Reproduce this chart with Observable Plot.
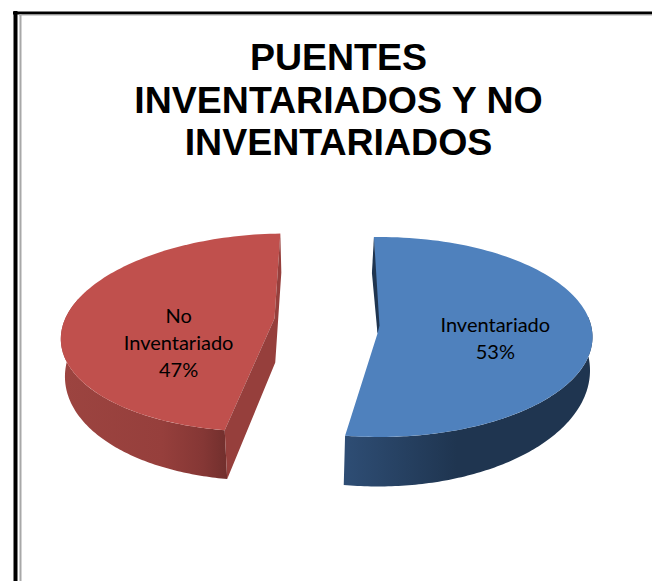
<!DOCTYPE html>
<html>
<head>
<meta charset="utf-8">
<script src="https://cdn.jsdelivr.net/npm/d3@7"></script>
<script src="https://cdn.jsdelivr.net/npm/@observablehq/plot@0.6"></script>
<style>
  html, body { margin: 0; padding: 0; background: #fff; }
  svg { display: block; }
</style>
</head>
<body>
<script>
// Bridge inventory shares
const categories = ["Inventariado", "No Inventariado"];
const shares = [53, 47];
const topColors = ["#4f81bd", "#c0504d"];
const titleLines = ["PUENTES", "INVENTARIADOS Y NO", "INVENTARIADOS"];
const labelLines = [["Inventariado"], ["No", "Inventariado"]];

const W = 652, H = 581;
const rotation = -1.5;

// Projection of each exploded slice: top rim ellipse, lower rim ellipse, shear and cut wall.
const projection = [
  {cx: 379, cy: 336.5, rx: 213, ry: 100, shear: 0,
   bx: 377.5, by: 370, brx: 212, bry: 116,
   sideFrom: 78, sideTo: null, apex: [-2, -3.5],
   wallTop: [-2, 36], wallApex: [-2, -3.5], wallInner: [0, -11.5], wallCorner: false,
   labelR: 0.545, labelY: 0,
   gradient: [["0%", "#2e4d74"], ["45%", "#1f3550"], ["100%", "#1f3550"]], gx: [345, 592],
   wallColor: "#1f3550"},
  {cx: 271.75, cy: 332, rx: 211, ry: 99, shear: 0.1375,
   bx: 276, by: 368, brx: 211, bry: 112,
   sideFrom: null, sideTo: 290, apex: [2.25, -14],
   wallTop: [1, 39], wallApex: [3, 30], wallInner: [2.25, -14], wallCorner: true,
   labelR: 0.445, labelY: 9,
   gradient: [["0%", "#9c4440"], ["60%", "#963f3c"], ["85%", "#853735"], ["100%", "#712f2d"]], gx: [63, 227],
   wallColor: "#963f3c"}
];

const pieAngles = d3.pie().sort(null)
  .startAngle(rotation * Math.PI / 180)
  .endAngle((rotation + 360) * Math.PI / 180)(shares);

const rim = (p, a) => [
  p.cx + p.rx * Math.sin(a) + p.shear * p.ry * Math.cos(a),
  p.cy - p.ry * Math.cos(a)
];
const lowerRim = (p, a) => [
  p.bx + p.brx * Math.sin(a) + p.shear * p.bry * Math.cos(a),
  p.by - p.bry * Math.cos(a)
];
const sweep = (from, to, fn, p) =>
  d3.range(0, 121).map(i => fn(p, from + (to - from) * i / 120));
const toRad = d => d * Math.PI / 180;
const at = (o, d) => [o[0] + d[0], o[1] + d[1]];

const slices = categories.map((name, i) => {
  const p = projection[i], a = pieAngles[i];
  const cwEnd = rim(p, a.endAngle), cwStart = rim(p, a.startAngle);
  const center = [p.cx, p.cy];
  const apex = at(center, p.apex);
  const surface = [apex, ...sweep(a.startAngle, a.endAngle, rim, p)];
  const sideA = p.sideFrom != null ? toRad(p.sideFrom) : a.startAngle;
  const sideB = p.sideTo != null ? toRad(p.sideTo) : a.endAngle;
  const side = [...sweep(sideA, sideB, rim, p), ...sweep(sideB, sideA, lowerRim, p)];
  // The cut face runs from the far rim corner through the slice apex to the near corner.
  const far = i === 0 ? cwStart : cwEnd;
  const near = i === 0 ? cwEnd : cwStart;
  const wall = [far, at(far, p.wallTop), at(center, p.wallApex)];
  if (p.wallCorner) wall.push(lowerRim(p, a.startAngle), near);
  wall.push(at(center, p.wallInner));
  const mid = (a.startAngle + a.endAngle) / 2;
  return {
    name, i, surface, side, wall,
    color: topColors[i],
    label: [...labelLines[i], `${shares[i]}%`].join("\n"),
    lx: p.cx + p.labelR * p.rx * Math.sin(mid),
    ly: p.cy + p.labelY
  };
});

const sideGradients = () => {
  const defs = d3.create("svg:defs");
  projection.forEach((p, i) => {
    const g = defs.append("linearGradient")
      .attr("id", `side-${i}`)
      .attr("gradientUnits", "userSpaceOnUse")
      .attr("x1", p.gx[0]).attr("x2", p.gx[1]).attr("y1", 0).attr("y2", 0);
    p.gradient.forEach(([o, c]) => g.append("stop").attr("offset", o).attr("stop-color", c));
  });
  return defs.node();
};

const polygon = (pts, fill) => Plot.line(pts, {
  x: d => d[0], y: d => d[1], fill, stroke: "none", curve: "linear-closed"
});

const chart = Plot.plot({
  width: W, height: H,
  margin: 0,
  style: {background: "#fff"},
  x: {domain: [0, W], range: [0, W], axis: null},
  y: {domain: [0, H], range: [0, H], axis: null},
  marks: [
    sideGradients,
    // Chart frame: heavy black outer edge with a thin grey inner edge
    Plot.ruleX([15], {y1: 11, y2: H, stroke: "#000", strokeWidth: 4}),
    Plot.ruleY([12.5], {x1: 13, x2: W, stroke: "#000", strokeWidth: 3}),
    Plot.ruleX([20], {y1: 14, y2: H, stroke: "#a8a8a8", strokeWidth: 2}),
    Plot.ruleY([14.5], {x1: 19, x2: W, stroke: "#a8a8a8", strokeWidth: 1}),
    ...slices.flatMap(s => [
      polygon(s.side, `url(#side-${s.i})`),
      polygon(s.surface, s.color),
      polygon(s.wall, projection[s.i].wallColor)
    ]),
    Plot.text(titleLines, {
      x: () => 338,
      y: (d, i) => [69, 112, 154][i],
      text: d => d,
      textAnchor: "middle",
      lineAnchor: "bottom",
      fontFamily: "Liberation Sans",
      fontWeight: "bold",
      fontSize: 37.5,
      fill: "#000"
    }),
    Plot.text(slices, {
      x: "lx", y: "ly", text: "label",
      textAnchor: "middle",
      lineAnchor: "middle",
      lineHeight: 1.33,
      fontFamily: "Lato",
      fontSize: 20,
      fill: "#000"
    })
  ]
});
document.body.appendChild(chart);
</script>
</body>
</html>
